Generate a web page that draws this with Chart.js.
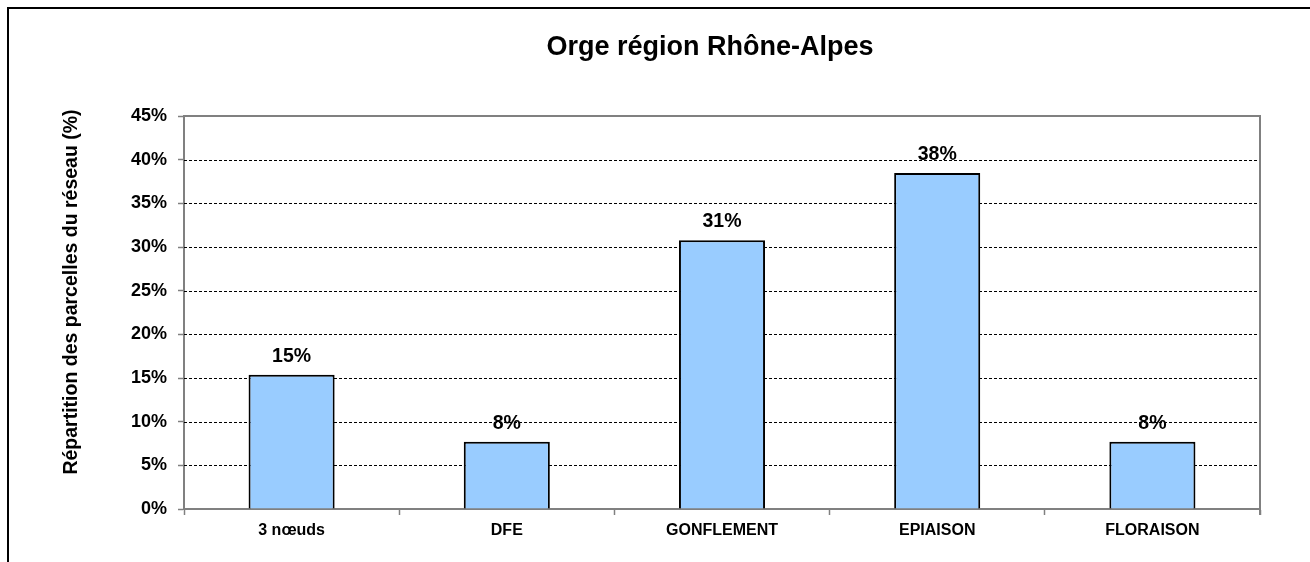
<!DOCTYPE html>
<html>
<head>
<meta charset="utf-8">
<script src="https://cdn.jsdelivr.net/npm/chart.js@4"></script>
<style>
  html, body { margin: 0; padding: 0; background: #ffffff; }
  #wrap { width: 1310px; height: 562px; }
</style>
</head>
<body>
<div id="wrap"><canvas id="myPlot1" width="1310" height="562"></canvas></div>
<script>
const categories = ['3 nœuds', 'DFE', 'GONFLEMENT', 'EPIAISON', 'FLORAISON']
const percentValues = [15.38, 7.69, 30.77, 38.46, 7.69]
const yTickMax = 45
const yTickStep = 5
const chartTitle = 'Orge région Rhône-Alpes'
const yAxisTitle = 'Répartition des parcelles du réseau (%)'

const FONT = 'Arial, "Liberation Sans", sans-serif'
const AXIS_GRAY = '#808080'

// frame, title, y title, dashed grid drawn on top of the library scales
const decorations = {
  id: 'decorations',
  beforeDraw: (chart) => {
    const {ctx} = chart
    ctx.save()
    ctx.fillStyle = '#ffffff'
    ctx.fillRect(0, 0, chart.width, chart.height)
    ctx.restore()
  },
  beforeDatasetsDraw: (chart) => {
    const {ctx, chartArea} = chart
    const y = chart.scales.y
    ctx.save()
    ctx.strokeStyle = '#000000'
    ctx.lineWidth = 1
    ctx.setLineDash([3, 2])
    for (let v = yTickStep; v < yTickMax; v += yTickStep) {
      const py = Math.round(y.getPixelForValue(v)) + 0.5
      ctx.beginPath()
      ctx.moveTo(chartArea.left, py)
      ctx.lineTo(chartArea.right, py)
      ctx.stroke()
    }
    ctx.restore()
  },
  afterDraw: (chart) => {
    const {ctx, chartArea} = chart
    ctx.save()
    // outer frame (only top and left visible)
    ctx.strokeStyle = '#000000'
    ctx.lineWidth = 2
    ctx.beginPath()
    ctx.moveTo(8, chart.height + 5)
    ctx.lineTo(8, 8)
    ctx.lineTo(chart.width + 5, 8)
    ctx.stroke()
    // plot area top and right
    ctx.strokeStyle = AXIS_GRAY
    ctx.lineWidth = 2
    ctx.beginPath()
    ctx.moveTo(chartArea.left, chartArea.top)
    ctx.lineTo(chartArea.right, chartArea.top)
    ctx.lineTo(chartArea.right, chartArea.bottom + 6)
    ctx.stroke()
    // title
    ctx.fillStyle = '#000000'
    ctx.font = 'bold 27px ' + FONT
    ctx.textAlign = 'center'
    ctx.textBaseline = 'middle'
    ctx.fillText(chartTitle, 710, 48)
    // y axis title
    ctx.translate(72, 292)
    ctx.rotate(-Math.PI / 2)
    ctx.font = 'bold 19.5px ' + FONT
    ctx.fillText(yAxisTitle, 0, 0)
    ctx.restore()
  },
  afterDatasetsDraw: (chart) => {
    const {ctx} = chart
    const meta = chart.getDatasetMeta(0)
    ctx.save()
    ctx.fillStyle = '#000000'
    ctx.font = 'bold 19.5px ' + FONT
    ctx.textAlign = 'center'
    ctx.textBaseline = 'alphabetic'
    meta.data.forEach((bar, i) => {
      ctx.fillText(Math.round(percentValues[i]) + '%', bar.x, bar.y - 13)
    })
    ctx.restore()
  }
}

new Chart('myPlot1', {
  type: 'bar',
  data: {
    labels: categories,
    datasets: [{
      data: percentValues,
      backgroundColor: '#99CCFF',
      borderColor: '#000000',
      borderWidth: 2,
      barPercentage: 0.4,
      categoryPercentage: 1
    }]
  },
  options: {
    responsive: false,
    animation: false,
    layout: {padding: {top: 116, right: 50, bottom: 0, left: 0}},
    scales: {
      x: {
        afterFit: (scale) => { scale.height = 53 },
        grid: {
          offset: true,
          drawOnChartArea: false,
          drawTicks: true,
          tickLength: 6,
          tickColor: AXIS_GRAY,
          tickWidth: 1.5
        },
        border: {display: true, color: AXIS_GRAY, width: 2},
        ticks: {
          color: '#000000',
          font: {family: FONT, size: 16, weight: 'bold'},
          padding: 6,
          maxRotation: 0
        }
      },
      y: {
        min: 0,
        max: yTickMax,
        afterFit: (scale) => { scale.width = 184 },
        grid: {
          drawOnChartArea: false,
          drawTicks: true,
          tickLength: 6,
          tickColor: AXIS_GRAY,
          tickWidth: 1.5
        },
        border: {display: true, color: AXIS_GRAY, width: 2},
        ticks: {
          stepSize: yTickStep,
          color: '#000000',
          font: {family: FONT, size: 18, weight: 'bold'},
          padding: 11,
          callback: (v) => v + '%'
        }
      }
    },
    plugins: {
      legend: {display: false},
      title: {display: false},
      tooltip: {enabled: false}
    }
  },
  plugins: [decorations]
})
</script>
</body>
</html>
